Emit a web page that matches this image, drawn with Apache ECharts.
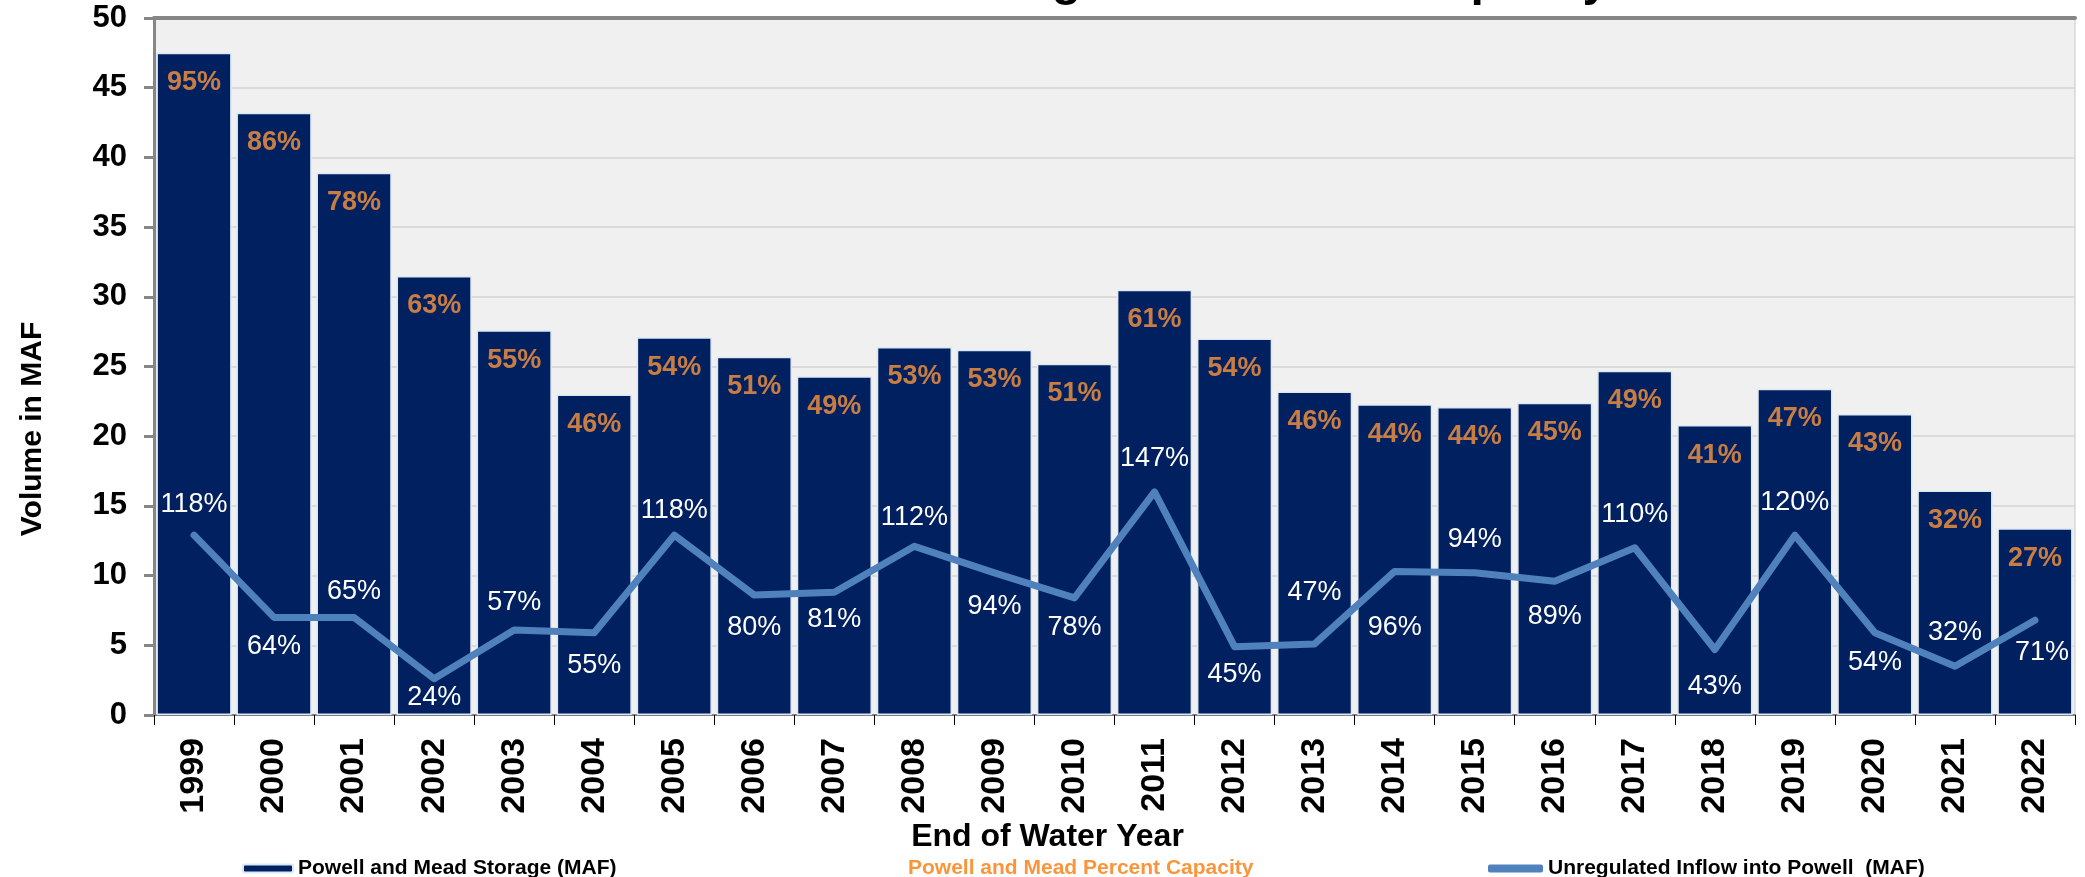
<!DOCTYPE html>
<html>
<head>
<meta charset="utf-8">
<script src="https://cdn.jsdelivr.net/npm/echarts@6/dist/echarts.min.js"></script>
<style>
  html, body { margin: 0; padding: 0; background: #fff; }
  #chart { width: 2085px; height: 877px; }
</style>
</head>
<body>
<div id="chart"></div>
<script>
// 数据
var years = ['1999', '2000', '2001', '2002', '2003', '2004', '2005', '2006', '2007', '2008', '2009', '2010',
  '2011', '2012', '2013', '2014', '2015', '2016', '2017', '2018', '2019', '2020', '2021', '2022']
// Powell and Mead Storage (MAF)
var storage = [47.5, 43.2, 38.9, 31.5, 27.6, 23.0, 27.1, 25.7, 24.3, 26.4, 26.2, 25.2,
  30.5, 27.0, 23.2, 22.3, 22.1, 22.4, 24.7, 20.8, 23.4, 21.6, 16.1, 13.4]
// Powell and Mead Percent Capacity
var pctCapacity = [95, 86, 78, 63, 55, 46, 54, 51, 49, 53, 53, 51,
  61, 54, 46, 44, 44, 45, 49, 41, 47, 43, 32, 27]
// Unregulated Inflow into Powell (MAF)
var inflow = [12.9, 7.0, 7.0, 2.6, 6.1, 5.9, 12.9, 8.6, 8.8, 12.1, 10.2, 8.4,
  16.0, 4.9, 5.1, 10.3, 10.2, 9.6, 12.0, 4.7, 12.9, 5.9, 3.5, 6.8]
// inflow as percent of average
var pctInflow = [118, 64, 65, 24, 57, 55, 118, 80, 81, 112, 94, 78,
  147, 45, 47, 96, 94, 89, 110, 43, 120, 54, 32, 71]

var FONT = '"Liberation Sans", Arial, sans-serif'
var NAVY = '#002060'
var ORANGE = '#fa953c'
var BLUE = '#4f81bd'

// 折线标签上下偏移 (style only)
var inflowLabelShift = [-31, 29, -26, 19, -27, 33, -25, 32, 27, -29, 34, 30,
  -33, 28, -51, 56, -33, 35, -33, 37, -33, 30, -34, 32]

var inflowData = inflow.map(function (v, i) {
  return {
    value: v,
    label: { offset: [i === inflow.length - 1 ? 7 : 0, inflowLabelShift[i]] }
  }
})

var myChart = echarts.init(document.getElementById('chart'))
var option = {
  animation: false,
  // 标题只露出下半截
  title: {
    text: 'Powell and Mead Storage and Percent Capacity',
    left: 524,
    top: -47,
    textStyle: { fontFamily: FONT, fontSize: 48, fontWeight: 'bold', color: '#000' }
  },
  legend: [
    {
      data: ['Powell and Mead Storage (MAF)'],
      left: 237,
      top: 853,
      itemWidth: 50,
      itemHeight: 8,
      textStyle: { fontFamily: FONT, fontSize: 21, fontWeight: 'bold', color: '#000' }
    },
    {
      data: ['Powell and Mead Percent Capacity'],
      left: 898,
      top: 853,
      itemWidth: 0,
      itemHeight: 0,
      textStyle: { fontFamily: FONT, fontSize: 21, fontWeight: 'bold', color: ORANGE }
    },
    {
      data: [{ name: 'Unregulated Inflow into Powell  (MAF)', icon: 'roundRect' }],
      left: 1483,
      top: 853,
      itemWidth: 55,
      itemHeight: 8,
      textStyle: { fontFamily: FONT, fontSize: 21, fontWeight: 'bold', color: '#000' }
    }
  ],
  grid: {
    left: 154,
    right: 10,
    top: 18,
    bottom: 162,
    show: true,
    backgroundColor: '#f0f0f0',
    borderColor: '#c8c8c8',
    borderWidth: 1,
    outerBoundsMode: 'none'
  },
  xAxis: [
    {
      type: 'category',
      data: years,
      name: 'End of Water Year',
      nameLocation: 'middle',
      nameGap: 101,
      nameTextStyle: {
        fontFamily: FONT, fontSize: 32, fontWeight: 'bold', color: '#000',
        padding: [0, 134, 0, 0]
      },
      axisLine: { lineStyle: { color: '#808080', width: 2 } },
      axisTick: { show: true, length: 10, lineStyle: { color: '#000', width: 1 } },
      axisLabel: {
        rotate: 90,
        margin: 23,
        fontFamily: FONT,
        fontSize: 34,
        fontWeight: 'bold',
        color: '#000'
      }
    },
    {
      // 顶部的灰色边框
      type: 'category',
      data: years,
      position: 'top',
      axisLine: { show: true, lineStyle: { color: '#868686', width: 4 } },
      axisTick: { show: false },
      axisLabel: { show: false }
    }
  ],
  yAxis: {
    type: 'value',
    min: 0,
    max: 50,
    interval: 5,
    name: 'Volume in MAF',
    nameLocation: 'middle',
    nameRotate: 90,
    nameGap: 106,
    nameTextStyle: {
      fontFamily: FONT, fontSize: 30, fontWeight: 'bold', color: '#000',
      padding: [0, 125, 0, 0]
    },
    axisLine: { show: true, lineStyle: { color: '#868686', width: 3 } },
    axisTick: { show: true, length: 10, lineStyle: { color: '#868686', width: 3 } },
    axisLabel: { margin: 27, fontFamily: FONT, fontSize: 31, fontWeight: 'bold', color: '#000' },
    splitLine: { lineStyle: { color: '#d4d4d4', width: 1.5 } }
  },
  series: [
    {
      name: 'Powell and Mead Storage (MAF)',
      type: 'bar',
      data: storage,
      barCategoryGap: '6%',
      itemStyle: { color: NAVY, borderColor: '#dbe9f6', borderWidth: 1.5 },
      z: 2
    },
    {
      // 百分比标签放在柱顶下方
      name: 'Powell and Mead Percent Capacity',
      type: 'scatter',
      data: storage,
      symbolSize: 1,
      itemStyle: { color: 'rgba(0,0,0,0)' },
      label: {
        show: true,
        position: 'bottom',
        distance: 16,
        formatter: function (p) { return pctCapacity[p.dataIndex] + '%' },
        fontFamily: FONT,
        fontSize: 27,
        fontWeight: 'bold',
        color: ORANGE,
        textBorderWidth: 0
      },
      z: 4
    },
    {
      name: 'Unregulated Inflow into Powell  (MAF)',
      type: 'line',
      data: inflowData,
      symbol: 'circle',
      symbolSize: 1,
      showSymbol: true,
      itemStyle: { color: BLUE },
      lineStyle: { color: BLUE, width: 7, cap: 'round', join: 'round' },
      label: {
        show: true,
        position: 'inside',
        formatter: function (p) { return pctInflow[p.dataIndex] + '%' },
        fontFamily: FONT,
        fontSize: 27,
        color: '#fff',
        textBorderWidth: 0
      },
      z: 3
    }
  ]
}
myChart.setOption(option)
</script>
</body>
</html>
